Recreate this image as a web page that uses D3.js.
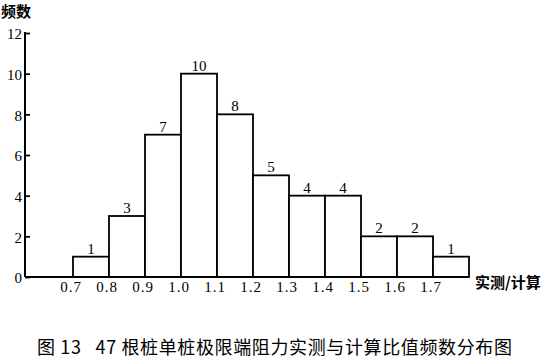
<!DOCTYPE html>
<html>
<head>
<meta charset="utf-8">
<script src="https://cdn.jsdelivr.net/npm/d3@7"></script>
<style>
  html, body { margin: 0; padding: 0; background: #fff; }
  svg { display: block; }
</style>
</head>
<body>
<svg id="chart" width="548" height="360"></svg>
<script>
// ---- data ----
const binEdges = [0.7, 0.8, 0.9, 1.0, 1.1, 1.2, 1.3, 1.4, 1.5, 1.6, 1.7, 1.8];
const counts = [1, 3, 7, 10, 8, 5, 4, 4, 2, 2, 1];
const xTickValues = [0.7, 0.8, 0.9, 1.0, 1.1, 1.2, 1.3, 1.4, 1.5, 1.6, 1.7];
const yTickValues = [0, 2, 4, 6, 8, 10, 12];
const yAxisTitle = "频数";
const xAxisTitle = "实测/计算";
const caption = "图 13\u00a0\u00a0\u00a047 根桩单桩极限端阻力实测与计算比值频数分布图";

const bins = counts.map((c, i) => ({ x0: binEdges[i], x1: binEdges[i + 1], n: c }));

const svg = d3.select("#chart");
const serif = "'Liberation Serif', 'DejaVu Serif', serif";
const cjk = "'Noto Sans CJK SC', sans-serif";

const axisX = 25;
const x = d3.scaleLinear().domain([0.7, 1.8]).range([73, 469]);
const y = d3.scaleLinear().domain([0, 12]).range([277, 33]);

// bars
svg.append("g").selectAll("rect")
  .data(bins)
  .join("rect")
  .attr("x", d => x(d.x0))
  .attr("y", d => y(d.n))
  .attr("width", d => x(d.x1) - x(d.x0))
  .attr("height", d => y(0) - y(d.n))
  .attr("fill", "#fff")
  .attr("stroke", "#000")
  .attr("stroke-width", 1.8);

// value labels
svg.append("g").selectAll("text")
  .data(bins)
  .join("text")
  .attr("x", d => (x(d.x0) + x(d.x1)) / 2)
  .attr("y", d => y(d.n) - 3)
  .attr("text-anchor", "middle")
  .attr("font-family", serif)
  .attr("font-size", 15)
  .text(d => d.n);

// y axis
const yAxis = d3.axisRight(y).tickValues(yTickValues).tickSize(5).tickFormat("");
const gy = svg.append("g").attr("transform", `translate(${axisX},0)`).call(yAxis);
gy.select(".domain").remove();
gy.selectAll(".tick line").attr("stroke", "#000").attr("stroke-width", 1.8);
svg.append("line")
  .attr("x1", axisX).attr("x2", axisX)
  .attr("y1", y(12) - 1).attr("y2", y(0))
  .attr("stroke", "#000").attr("stroke-width", 2);
svg.append("g").selectAll("text")
  .data(yTickValues)
  .join("text")
  .attr("x", axisX - 3)
  .attr("y", d => y(d) + 1)
  .attr("dy", "0.35em")
  .attr("text-anchor", "end")
  .attr("font-family", serif)
  .attr("font-size", 15)
  .text(d => d);

// x baseline
svg.append("line")
  .attr("x1", axisX).attr("x2", x(1.8))
  .attr("y1", y(0)).attr("y2", y(0))
  .attr("stroke", "#000").attr("stroke-width", 2);

// x tick labels
svg.append("g").selectAll("text")
  .data(xTickValues)
  .join("text")
  .attr("x", d => x(d) - 2)
  .attr("y", 292)
  .attr("text-anchor", "middle")
  .attr("font-family", serif)
  .attr("font-size", 15)
  .attr("letter-spacing", "1px")
  .text(d => d.toFixed(1));

// axis titles
svg.append("text")
  .attr("x", 1).attr("y", 17)
  .attr("font-family", cjk)
  .attr("font-weight", 700)
  .attr("font-size", 15)
  .text(yAxisTitle);

svg.append("text")
  .attr("x", 475).attr("y", 288)
  .attr("font-family", cjk)
  .attr("font-weight", 700)
  .attr("font-size", 15)
  .text(xAxisTitle);

// caption
svg.append("text")
  .attr("x", 37).attr("y", 354)
  .attr("font-family", cjk)
  .attr("font-size", 18)
  .attr("textLength", 475)
  .attr("lengthAdjust", "spacing")
  .text(caption);
</script>
</body>
</html>
